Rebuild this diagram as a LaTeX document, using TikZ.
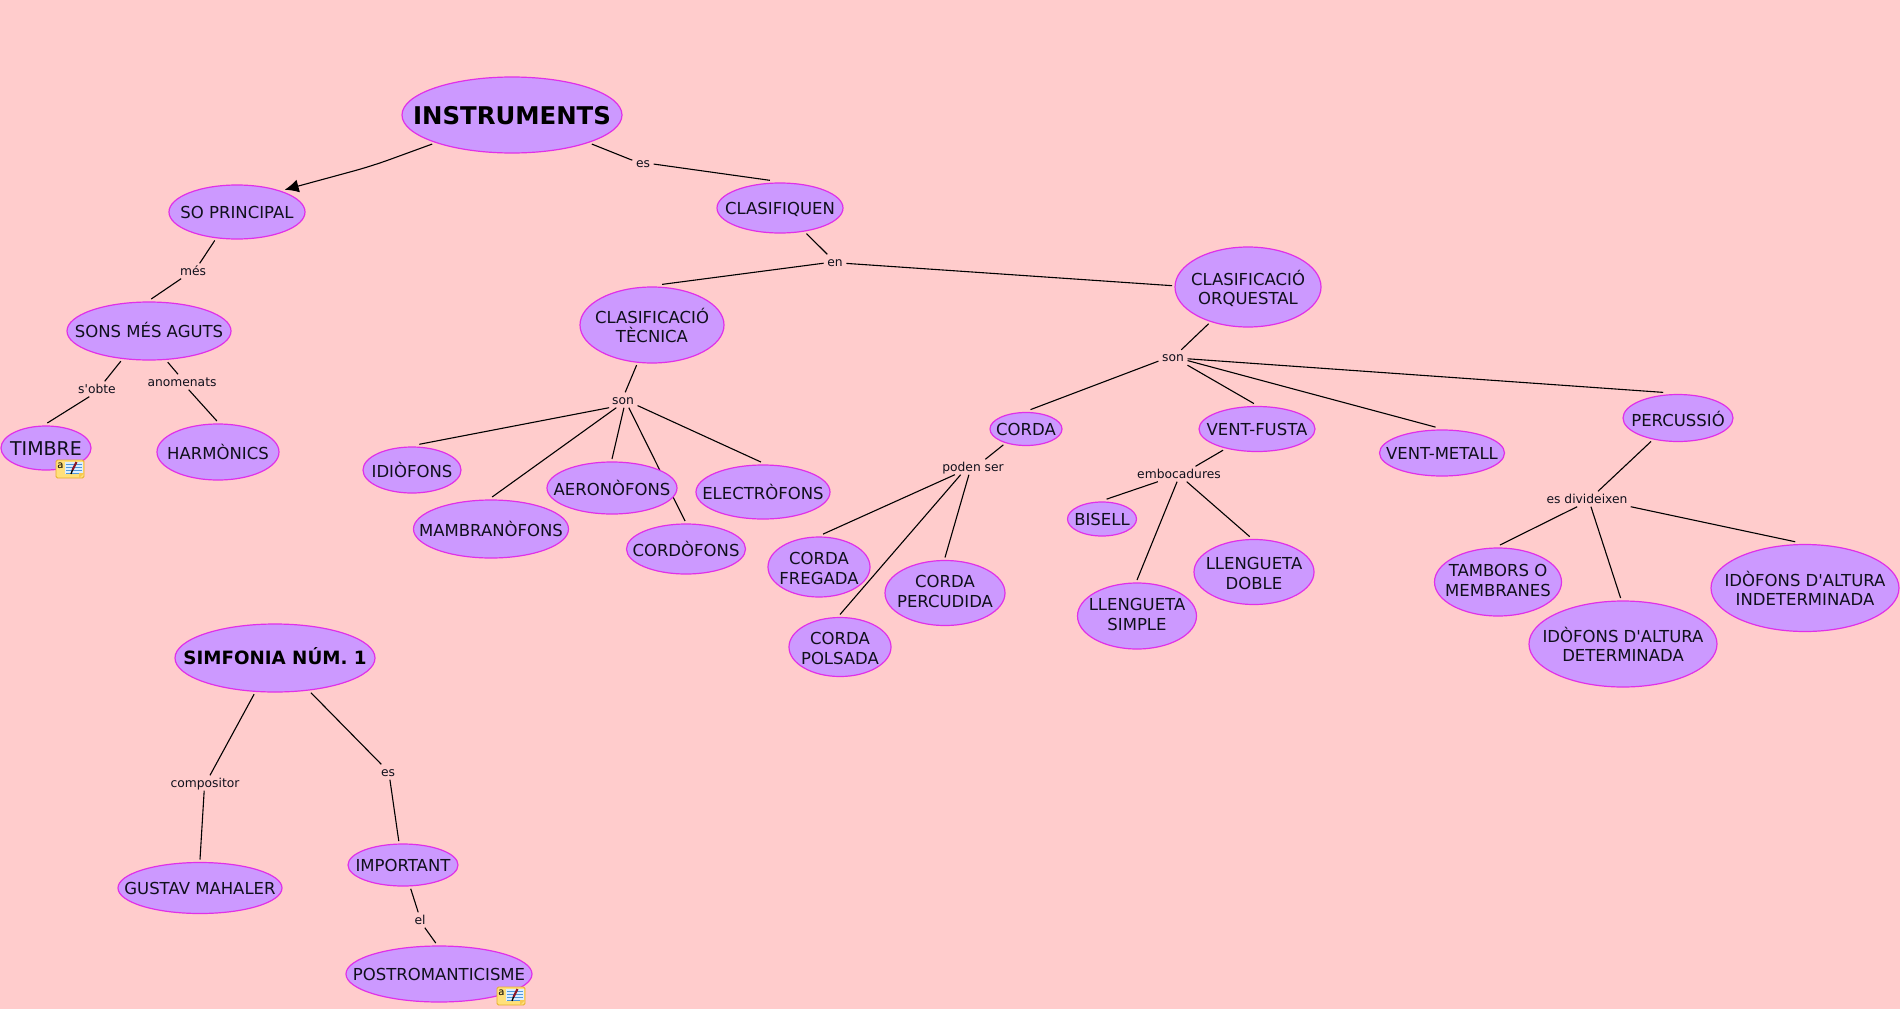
\documentclass[tikz,border=0pt]{standalone}
\usepackage{fontspec}
\newfontfamily\dv{DejaVu Sans}
\setmainfont{DejaVu Sans}
\usetikzlibrary{shapes.geometric,arrows.meta,backgrounds}
\definecolor{bg}{HTML}{FFCCCC}
\definecolor{nodefill}{HTML}{CC99FF}
\definecolor{nodeline}{HTML}{E030E8}
\definecolor{ink}{HTML}{10101C}
\definecolor{notefill}{HTML}{FFE07A}
\definecolor{noteline}{HTML}{E6AE28}
\definecolor{notepage}{HTML}{DCEEFF}
\definecolor{notestripe}{HTML}{4F98DC}
\definecolor{notepencil}{HTML}{8B1A2B}
\definecolor{notefold}{HTML}{F7C850}
\newcommand\ms{\vrule width 0pt height .97em depth .21em\relax}
\newcommand\ma{\vrule width 0pt height 1.2em depth 0pt\relax}
\newcommand\mb{\vrule width 0pt height 1.09em depth 0pt\relax}
\newcommand\ls{\vrule width 0pt height .92em depth .2em\relax}
\tikzset{
  concept/.style={ellipse,draw=nodeline,fill=nodefill,line width=1.2pt,inner sep=-30pt,outer sep=3pt,
    align=center,text=ink,font=\dv\fontsize{16.5}{19.5}\selectfont,execute at begin node=\ms},
  title/.style={concept,text=black,font=\dv\bfseries\fontsize{#1}{24}\selectfont},
  linklabel/.style={inner xsep=3.5pt,inner ysep=0pt,minimum height=15pt,text=ink,
    font=\dv\fontsize{12.3}{14}\selectfont,execute at begin node=\ls},
  link/.style={draw=black,line width=1.1pt},
  noteicon/.pic={
    \draw[draw=noteline,fill=notefill,line width=.9pt,rounded corners=1.5pt] (0,0) rectangle (28,18);
    \fill[notepage] (9,1.5) rectangle (26.5,13.5);
    \foreach \yy in {4,7,10,13}{\draw[notestripe,line width=.7pt] (10,\yy) -- (26,\yy);}
    \draw[notepencil,line width=2.2pt] (20.5,2) -- (16.5,10);
    \draw[black,line width=1.3pt] (16.5,10) -- (15,14);
    \fill[notefold] (28,13) -- (23,18) -- (23,13) -- cycle;
    \node[inner sep=0pt,font=\dv\fontsize{10}{10}\selectfont] (a) at (4.5,5.5) {a};
  }
}
\begin{document}
\begin{tikzpicture}[x=1pt,y=-1pt]
\useasboundingbox (0,0) rectangle (1900,1009);
\node[title=24.4,minimum width=220pt,minimum height=76pt] (inst) at (512,115) {INSTRUMENTS};
\node[concept,minimum width=136pt,minimum height=54pt] (so) at (237,212) {SO PRINCIPAL};
\node[concept,minimum width=126pt,minimum height=50pt] (clq) at (780,208) {CLASIFIQUEN};
\node[concept,minimum width=164pt,minimum height=58pt] (sons) at (149,331) {SONS MÉS AGUTS};
\node[concept,font=\dv\fontsize{19}{22}\selectfont,minimum width=90pt,minimum height=44pt] (tim) at (46,448) {TIMBRE};
\node[concept,minimum width=122pt,minimum height=56pt] (har) at (218,452) {\mb HARMÒNICS};
\node[concept,minimum width=144pt,minimum height=76pt] (tec) at (652,325) {\ma CLASIFICACIÓ\\\ms TÈCNICA};
\node[concept,minimum width=146pt,minimum height=80pt] (orq) at (1248,287) {\ma CLASIFICACIÓ\\\ms ORQUESTAL};
\node[concept,minimum width=98pt,minimum height=46pt] (idi) at (412,470) {\mb IDIÒFONS};
\node[concept,minimum width=155pt,minimum height=58pt] (mam) at (491,529) {\mb MAMBRANÒFONS};
\node[concept,minimum width=130pt,minimum height=52pt] (aer) at (612,488) {\mb AERONÒFONS};
\node[concept,minimum width=134pt,minimum height=54pt] (ele) at (763,492) {\mb ELECTRÒFONS};
\node[concept,minimum width=119pt,minimum height=50pt] (cor) at (686,549) {\mb CORDÒFONS};
\node[concept,minimum width=72pt,minimum height=33pt] (crd) at (1026,429) {CORDA};
\node[concept,minimum width=116pt,minimum height=45pt] (vf) at (1257,429) {VENT-FUSTA};
\node[concept,minimum width=125pt,minimum height=46pt] (vm) at (1442,453) {VENT-METALL};
\node[concept,minimum width=110pt,minimum height=47pt] (per) at (1678,418) {\ma PERCUSSIÓ};
\node[concept,minimum width=102pt,minimum height=60pt] (fre) at (819,567) {\mb CORDA\\\ms FREGADA};
\node[concept,minimum width=120pt,minimum height=65pt] (prc) at (945,593) {CORDA\\\ms PERCUDIDA};
\node[concept,minimum width=102pt,minimum height=59pt] (pol) at (840,647) {\mb CORDA\\\ms POLSADA};
\node[concept,minimum width=69pt,minimum height=34pt] (bis) at (1102,519) {BISELL};
\node[concept,minimum width=119pt,minimum height=66pt] (lsi) at (1137,616) {LLENGUETA\\\ms SIMPLE};
\node[concept,minimum width=120pt,minimum height=65pt] (ldo) at (1254,572) {\mb LLENGUETA\\\ms DOBLE};
\node[concept,minimum width=127pt,minimum height=68pt] (tam) at (1498,582) {TAMBORS O\\\ms MEMBRANES};
\node[concept,minimum width=188pt,minimum height=86pt] (det) at (1623,644) {\ma IDÒFONS D'ALTURA\\\ms DETERMINADA};
\node[concept,minimum width=188pt,minimum height=87pt] (ind) at (1805,588) {\ma IDÒFONS D'ALTURA\\\ms INDETERMINADA};
\node[title=18.3,minimum width=200pt,minimum height=68pt] (sim) at (275,658) {SIMFONIA NÚM. 1};
\node[concept,minimum width=164pt,minimum height=51pt] (gus) at (200,888) {GUSTAV MAHALER};
\node[concept,minimum width=110pt,minimum height=42pt] (imp) at (403,865) {IMPORTANT};
\node[concept,minimum width=186pt,minimum height=56pt] (pos) at (439,974) {POSTROMANTICISME};

\node[linklabel] (les) at (643,163.5) {es};
\node[linklabel] (lmes) at (193,271) {més};
\node[linklabel] (lob) at (97,389) {s'obte};
\node[linklabel] (lan) at (182,382) {anomenats};
\node[linklabel] (len) at (835,262) {en};
\node[linklabel] (lsa) at (623,400) {son};
\node[linklabel] (lsb) at (1173,357.5) {son};
\node[linklabel] (lpod) at (973,467) {poden ser};
\node[linklabel] (lemb) at (1179,474) {embocadures};
\node[linklabel] (ldiv) at (1587,499) {es divideixen};
\node[linklabel] (lcom) at (205,783) {compositor};
\node[linklabel] (lesb) at (388,772) {es};
\node[linklabel] (lel) at (420,920) {el};

\coordinate (bend) at (372,166);

\pic (notea) at (56,460) {noteicon};
\pic (noteb) at (497,987) {noteicon};

\begin{pgfonlayer}{background}
\fill[bg] (0,0) rectangle (1900,1009);
\draw[link,rounded corners=18pt,-{Latex[length=14pt,width=13pt]}] (inst.200) -- (bend) -- (so.25);
\draw[link] (inst.340) -- (les.163);
\draw[link] (les.357) -- (clq.110);
\draw[link] (clq.316) -- (len.135);
\draw[link] (len.186) -- (tec.76);
\draw[link] (len.353) -- (orq.179);
\draw[link] (orq.223) -- (lsb.43);
\draw[link] (lsb.194) -- (crd.77);
\draw[link] (lsb.332) -- (vf.97);
\draw[link] (lsb.348) -- (vm.104);
\draw[link] (lsb.355) -- (per.120);
\draw[link] (tec.249) -- (lsa.74);
\draw[link] (lsa.209) -- (idi.74);
\draw[link] (lsa.229) -- (mam.88);
\draw[link] (lsa.277) -- (aer.90);
\draw[link] (lsa.307) -- (cor.92);
\draw[link] (lsa.339) -- (ele.94);
\draw[link] (crd.215) -- (lpod.32);
\draw[link] (lpod.203) -- (fre.83);
\draw[link] (lpod.212) -- (pol.90);
\draw[link] (lpod.242) -- (prc.90);
\draw[link] (vf.212) -- (lemb.25);
\draw[link] (lemb.200) -- (bis.77);
\draw[link] (lemb.256) -- (lsi.90);
\draw[link] (lemb.315) -- (ldo.97);
\draw[link] (per.221) -- (ldiv.35);
\draw[link] (ldiv.218) -- (tam.87);
\draw[link] (ldiv.297) -- (det.93);
\draw[link] (ldiv.350) -- (ind.102);
\draw[link] (so.232) -- (lmes.49);
\draw[link] (lmes.213) -- (sons.86);
\draw[link] (sons.227) -- (lob.45);
\draw[link] (lob.225) -- (tim.87);
\draw[link] (sons.301) -- (lan.117);
\draw[link] (lan.311) -- (har.92);
\draw[link] (sim.240) -- (lcom.57);
\draw[link] (lcom.264) -- (gus.90);
\draw[link] (sim.316) -- (lesb.131);
\draw[link] (lesb.284) -- (imp.100);
\draw[link] (imp.288) -- (lel.103);
\draw[link] (lel.302) -- (pos.96);
\end{pgfonlayer}
\end{tikzpicture}
\end{document}
